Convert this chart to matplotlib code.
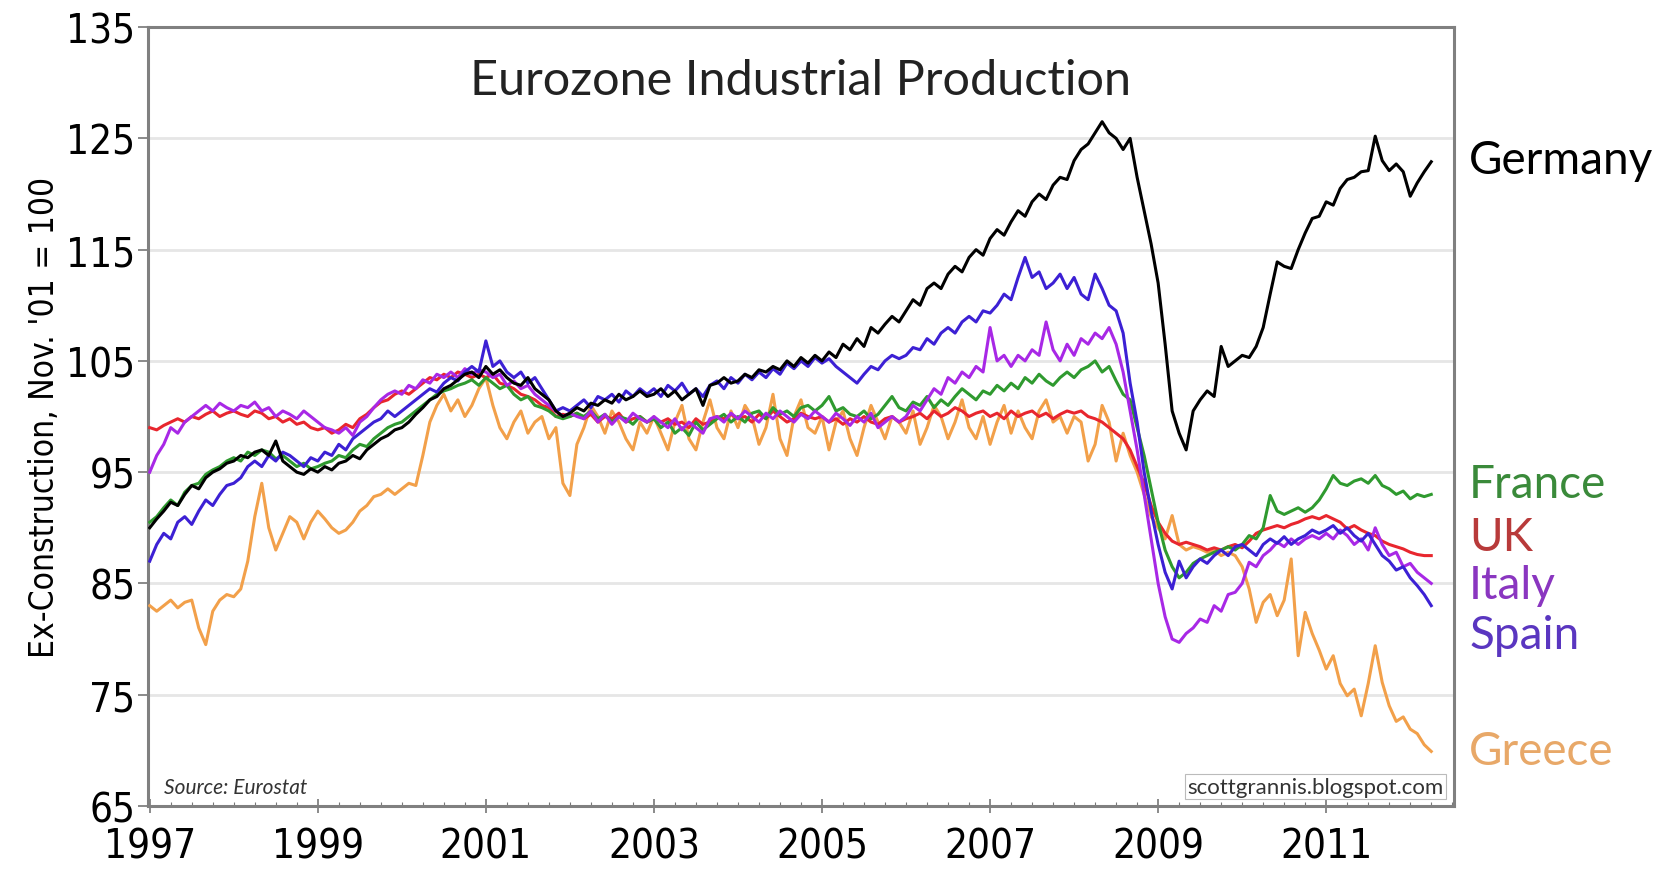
import matplotlib
matplotlib.use("Agg")
import matplotlib.pyplot as plt
import numpy as np

# monthly index values, Jan 1997 .. Apr 2012 (Nov '01 = 100)
start_year = 1997
germany = [
    90.0, 90.8, 91.5, 92.3, 92.0, 93.0, 93.8, 93.5, 94.5, 95.0, 95.3, 95.8,
    96.0, 96.5, 96.3, 96.8, 97.0, 96.5, 97.8, 96.0, 95.5, 95.0, 94.8, 95.3,
    95.0, 95.5, 95.2, 95.8, 96.0, 96.5, 96.2, 97.0, 97.5, 98.0, 98.3, 98.8,
    99.0, 99.5, 100.2, 100.8, 101.5, 101.8, 102.5, 102.8, 103.3, 103.8, 104.0, 103.5,
    104.5, 103.8, 104.2, 103.5, 103.0, 102.8, 103.5, 102.5, 102.0, 101.5, 100.5, 100.0,
    100.3, 100.8, 100.5, 101.2, 101.0, 101.5, 101.2, 102.0, 101.5, 101.8, 102.3, 101.8,
    102.0, 102.5, 101.8, 102.3, 101.5, 102.0, 102.5, 101.0, 102.8, 103.0, 103.5, 103.0,
    103.2, 103.8, 103.5, 104.2, 104.0, 104.5, 104.2, 105.0, 104.5, 105.3, 104.8, 105.5,
    105.0, 105.8, 105.3, 106.5, 106.0, 107.0, 106.3, 108.0, 107.5, 108.3, 109.0, 108.5,
    109.5, 110.5, 110.0, 111.5, 112.0, 111.5, 112.8, 113.5, 113.0, 114.3, 115.0, 114.5,
    116.0, 116.8, 116.3, 117.5, 118.5, 118.0, 119.3, 120.0, 119.5, 120.8, 121.5, 121.3,
    123.0, 124.0, 124.5, 125.5, 126.5, 125.5, 125.0, 124.0, 125.0, 121.5, 118.5, 115.5,
    112.0, 106.5, 100.5, 98.5, 97.0, 100.5, 101.5, 102.3, 101.8, 106.3, 104.5, 105.0,
    105.5, 105.3, 106.3, 108.0, 111.0, 113.9, 113.5, 113.3, 115.0, 116.5, 117.8, 118.0,
    119.3, 119.0, 120.5, 121.3, 121.5, 122.0, 122.1, 125.2, 123.0, 122.1, 122.7, 122.0,
    119.8, 121.0, 122.0, 122.9,
]
france = [
    90.5, 91.0, 91.8, 92.5, 92.0, 93.2, 93.8, 94.0, 94.8, 95.2, 95.5, 96.0,
    96.3, 96.0, 96.8, 96.5, 97.0, 96.8, 96.2, 96.5, 96.0, 95.5, 95.8, 95.3,
    95.5, 95.8, 96.0, 96.5, 96.3, 97.0, 97.5, 97.3, 98.0, 98.5, 99.0, 99.3,
    99.5, 100.0, 100.5, 101.0, 101.5, 102.0, 102.3, 102.5, 102.8, 103.0, 103.3, 102.8,
    103.5, 103.0, 102.5, 102.8, 102.0, 101.5, 101.8, 101.0, 100.8, 100.5, 100.0, 99.8,
    100.0, 100.3, 100.0, 100.5, 99.8, 100.2, 99.5, 100.0, 99.8, 99.3, 100.0, 99.5,
    99.8, 99.0, 99.5, 98.5, 99.0, 98.3, 99.5, 98.8, 99.3, 99.8, 100.2, 99.5,
    100.0, 99.5, 100.3, 100.5, 99.8, 100.8, 100.2, 100.5, 100.0, 100.8, 101.0, 100.5,
    101.0, 101.8, 100.5, 100.8, 100.2, 100.0, 100.5, 99.8, 100.2, 101.0, 101.8, 100.8,
    100.5, 101.3, 101.0, 101.8, 100.8, 101.5, 101.0, 101.8, 102.5, 102.0, 101.5, 102.3,
    102.0, 102.8, 102.3, 103.0, 102.5, 103.5, 103.0, 103.8, 103.2, 102.8, 103.5, 104.0,
    103.5, 104.2, 104.5, 105.0, 104.0, 104.5, 103.2, 102.0, 101.5, 99.0, 96.5, 93.5,
    90.5, 88.0, 86.5, 85.5, 86.0, 86.8, 87.2, 87.5, 87.8, 88.0, 88.3, 88.0,
    88.5, 89.3, 89.0, 90.0, 92.9, 91.5, 91.2, 91.5, 91.8, 91.4, 91.8, 92.5,
    93.5, 94.7, 94.0, 93.8, 94.2, 94.4, 94.0, 94.7, 93.8, 93.5, 93.0, 93.3,
    92.6, 93.0, 92.8, 93.0,
]
uk = [
    99.0, 98.8, 99.2, 99.5, 99.8, 99.5, 100.0, 99.8, 100.2, 100.5, 100.0, 100.3,
    100.5, 100.2, 100.0, 100.5, 100.3, 99.8, 100.0, 99.5, 99.8, 99.3, 99.5, 99.0,
    98.8, 99.0, 98.5, 98.8, 99.3, 99.0, 99.8, 100.2, 100.8, 101.3, 101.5, 102.0,
    102.3, 102.0, 102.5, 103.0, 103.5, 103.3, 103.8, 103.5, 104.0, 103.8, 103.5, 103.8,
    103.5, 103.8, 103.0, 102.8, 102.5, 102.0, 101.8, 101.5, 101.0, 100.8, 100.0, 100.2,
    100.0, 100.3, 99.8, 100.2, 99.5, 100.0, 99.8, 100.3, 99.5, 99.8, 100.0, 99.5,
    99.8, 99.5, 99.8, 99.3, 99.5, 99.0, 99.8, 99.3, 99.5, 100.0, 99.8, 100.2,
    99.8, 100.0, 99.5, 100.2, 99.8, 100.5, 100.0, 99.5, 99.8, 100.3, 100.0, 99.8,
    100.0, 99.5, 99.8, 99.3, 99.8, 99.5, 100.0, 99.5, 99.3, 99.8, 100.0, 99.5,
    99.8, 100.0, 100.3, 99.8, 100.5, 100.0, 100.3, 100.8, 100.5, 100.0, 100.3, 100.5,
    100.0, 100.3, 99.8, 100.5, 100.0, 100.3, 100.5, 100.0, 100.3, 99.8, 100.2, 100.5,
    100.3, 100.5, 100.0, 99.8, 99.5, 99.0, 98.5, 98.0, 97.0, 95.5, 94.0, 92.0,
    90.5, 89.5, 88.8, 88.5, 88.7, 88.5, 88.3, 88.0, 88.2, 88.0, 88.3, 88.5,
    88.2, 88.8, 89.5, 89.8, 90.0, 90.2, 90.0, 90.3, 90.5, 90.8, 91.0, 90.8,
    91.1, 90.8, 90.5, 89.9, 90.2, 89.8, 89.5, 89.3, 88.8, 88.5, 88.3, 88.1,
    87.8, 87.6, 87.5, 87.5,
]
italy = [
    95.0, 96.5, 97.5, 99.0, 98.5, 99.5, 100.0, 100.5, 101.0, 100.5, 101.2, 100.8,
    100.5, 101.0, 100.8, 101.3, 100.5, 100.8, 100.0, 100.5, 100.2, 99.8, 100.5, 100.0,
    99.5, 99.0, 98.8, 98.5, 99.0, 98.3, 99.5, 100.0, 100.8, 101.5, 102.0, 102.3,
    102.0, 102.8, 102.5, 103.3, 103.0, 103.8, 103.5, 104.0, 103.5, 104.3, 103.8, 104.2,
    104.0, 103.5, 103.8, 102.8, 103.2, 102.5, 102.8, 102.0, 101.5, 101.0, 100.5, 100.0,
    100.3, 100.0, 99.8, 100.5, 99.5, 100.2, 99.3, 100.0, 99.5, 100.3, 99.8, 99.5,
    100.0, 99.5, 99.0, 99.8, 98.8, 99.5, 99.0, 98.5, 99.8, 100.0, 99.5, 100.3,
    99.8, 100.5, 100.0, 99.5, 100.3, 99.8, 100.5, 100.0, 99.5, 100.2, 99.8, 100.5,
    100.0, 99.5, 100.3, 99.8, 99.2, 100.0, 99.5, 100.3, 99.0, 99.5, 100.0, 99.5,
    100.0, 101.0, 100.5, 101.5, 102.5, 102.0, 103.5, 103.0, 104.0, 103.5, 104.5, 104.0,
    108.0, 105.0, 105.5, 104.5, 105.5, 105.0, 106.0, 105.5, 108.5, 106.0, 105.0, 106.5,
    105.5, 107.0, 106.5, 107.5, 107.0, 108.0, 106.5, 104.0, 100.5, 97.0, 93.0, 89.0,
    85.0, 82.0, 80.0, 79.7, 80.5, 81.0, 81.8, 81.5, 83.0, 82.5, 84.0, 84.2,
    85.0, 86.9, 86.5, 87.5, 88.0, 88.7, 88.3, 89.0, 88.5, 89.0, 89.3, 89.0,
    89.5, 89.0, 89.8, 89.3, 88.5, 89.0, 88.0, 90.0, 88.5, 87.5, 87.8, 86.5,
    86.8, 86.0, 85.5, 85.0,
]
spain = [
    87.0, 88.5, 89.5, 89.0, 90.5, 91.0, 90.3, 91.5, 92.5, 92.0, 93.0, 93.8,
    94.0, 94.5, 95.5, 96.0, 95.5, 96.5, 96.0, 96.8, 96.5, 96.0, 95.5, 96.3,
    96.0, 96.8, 96.5, 97.5, 97.0, 98.0, 98.5, 99.0, 99.5, 99.8, 100.5, 100.0,
    100.5, 101.0, 101.5, 102.0, 102.5, 102.2, 103.0, 103.5, 103.2, 104.0, 104.5, 104.0,
    106.8, 104.5, 105.0, 104.0, 103.5, 104.0, 103.0, 103.5, 102.5, 101.5, 100.5, 100.8,
    100.5, 101.0, 101.5, 100.8, 101.8, 101.5, 102.0, 101.3, 102.3, 101.8, 102.5, 102.0,
    102.5, 101.8, 102.8, 102.3, 103.0, 102.0, 102.5, 101.8, 102.8, 103.2, 102.5, 103.5,
    103.0, 103.8, 103.3, 104.0, 103.5, 104.3, 103.8, 104.8, 104.3, 105.0, 104.5, 105.3,
    104.8, 105.2, 104.5, 104.0, 103.5, 103.0, 103.8, 104.5, 104.2, 105.0, 105.5, 105.2,
    105.5, 106.2, 106.0, 107.0, 106.5, 107.5, 108.0, 107.5, 108.5, 109.0, 108.5, 109.5,
    109.3, 110.0, 111.0, 110.5, 112.5, 114.3, 112.5, 113.0, 111.5, 112.0, 112.8, 111.5,
    112.5, 111.0, 110.5, 112.8, 111.5, 110.0, 109.5, 107.5, 103.0, 99.5, 95.0, 91.5,
    88.5, 86.0, 84.5, 87.0, 85.5, 86.5, 87.2, 86.8, 87.5, 88.0, 87.5, 88.3,
    88.5, 88.0, 87.5, 88.5, 89.0, 88.6, 89.2, 88.5, 89.0, 89.3, 89.8, 89.5,
    89.8, 90.2, 89.5, 90.0, 89.3, 88.8, 89.5, 88.5, 87.5, 87.0, 86.2, 86.5,
    85.5, 84.8, 84.0, 83.0,
]
greece = [
    83.0, 82.5, 83.0, 83.5, 82.8, 83.3, 83.5, 81.0, 79.5, 82.5, 83.5, 84.0,
    83.8, 84.5, 87.0, 91.0, 94.0, 90.0, 88.0, 89.5, 91.0, 90.5, 89.0, 90.5,
    91.5, 90.8, 90.0, 89.5, 89.8, 90.5, 91.5, 92.0, 92.8, 93.0, 93.5, 93.0,
    93.5, 94.0, 93.8, 96.5, 99.5, 101.0, 102.0, 100.5, 101.5, 100.0, 101.0, 102.5,
    103.5, 101.0, 99.0, 98.0, 99.5, 100.5, 98.5, 99.5, 100.0, 98.0, 99.0, 94.0,
    92.9, 97.5, 99.0, 101.0, 100.0, 98.5, 100.5, 99.5, 98.0, 97.0, 99.5, 98.5,
    100.0, 98.5, 97.0, 99.5, 101.0, 98.0, 97.0, 99.5, 101.5, 99.0, 98.0, 100.5,
    99.0, 101.0, 100.0, 97.5, 99.0, 102.0, 98.0, 96.5, 100.0, 101.5, 99.0, 98.5,
    100.0, 97.0, 99.5, 100.5, 98.0, 96.5, 99.0, 101.0, 99.5, 98.0, 100.0, 99.5,
    98.5, 100.5, 97.5, 99.0, 101.0, 100.0, 98.0, 99.5, 101.5, 99.0, 98.0, 100.0,
    97.5, 99.5, 101.0, 98.5, 100.5, 99.0, 98.0, 100.5, 101.5, 99.5, 100.0, 98.5,
    100.0, 99.5, 96.0, 97.5, 101.0, 99.5, 96.0, 98.5, 96.5, 95.0, 93.0, 91.0,
    90.0, 89.0, 91.1, 88.5, 88.0, 88.3, 88.1, 87.8, 88.0, 87.5, 87.8, 87.5,
    86.5, 84.5, 81.5, 83.3, 84.0, 82.1, 83.5, 87.2, 78.5, 82.4, 80.5, 79.0,
    77.3, 78.5, 76.0, 74.9, 75.5, 73.1, 76.0, 79.4, 76.1, 74.0, 72.6, 73.0,
    71.9, 71.5, 70.5, 69.9,
]

names = ["Greece", "UK", "France", "Italy", "Spain", "Germany"]
series = [greece, uk, france, italy, spain, germany]
line_colors = ["#f2a04a", "#e8262e", "#2f9a2f", "#a828e6", "#3c20d4", "#000000"]
label_colors = ["#e8a868", "#b83a3a", "#3a8a3a", "#8a36c0", "#5a36c0", "#000000"]
label_y = [69.9, 89.2, 93.9, 84.9, 80.4, 123.1]
year_ticks = [1997, 1999, 2001, 2003, 2005, 2007, 2009, 2011]
y_ticks = [65, 75, 85, 95, 105, 115, 125, 135]

plt.rcParams["font.family"] = ["Lato", "DejaVu Sans"]
tick_font = dict(family="DejaVu Sans", fontstretch="condensed", fontsize=29)

fig = plt.figure(figsize=(16.71, 8.79), dpi=100)
ax = fig.add_axes([0.0886, 0.082, 0.7815, 0.886])

for yv in y_ticks[1:-1]:
    ax.axhline(yv, color="#e6e6e6", lw=2, zorder=0)

for name, vals, col in zip(names, series, line_colors):
    x = start_year + np.arange(len(vals)) / 12.0
    ax.plot(x, vals, color=col, lw=2.2, zorder=3)

for name, ly, col in zip(names, label_y, label_colors):
    ax.text(2012.70, ly, name, color=col, fontsize=33, va="center", ha="left",
            clip_on=False)

ax.set_xlim(1996.98, 2012.52)
ax.set_ylim(65, 135)
ax.set_xticks(year_ticks)
ax.set_xticklabels([str(v) for v in year_ticks], **tick_font)
ax.set_xticks(np.arange(1997, 2012.6, 0.25), minor=True)
ax.set_yticks(y_ticks)
ax.set_yticklabels([str(v) for v in y_ticks], **tick_font)
ax.tick_params(axis="x", which="major", direction="inout", length=10, width=1.2,
               color="#777777", pad=10)
ax.tick_params(axis="x", which="minor", direction="in", length=3, width=0.8,
               color="#777777")
ax.tick_params(axis="y", direction="out", length=7, width=1.2, color="#777777", pad=2)

for s in ax.spines.values():
    s.set_color("#808080")
    s.set_linewidth(2.2)

ax.set_ylabel("Ex-Construction, Nov. '01 = 100", family="DejaVu Sans",
              fontstretch="condensed", fontsize=24, labelpad=4)

ax.text(0.5, 0.932, "Eurozone Industrial Production", transform=ax.transAxes,
        ha="center", va="center", fontsize=35, color="#222222")
ax.text(0.012, 0.012, "Source: Eurostat", transform=ax.transAxes, ha="left",
        va="bottom", fontsize=15, style="italic", color="#333333")
ax.text(0.992, 0.012, "scottgrannis.blogspot.com", transform=ax.transAxes,
        ha="right", va="bottom", fontsize=16, color="#333333",
        bbox=dict(facecolor="white", edgecolor="#bbbbbb", lw=0.8, pad=2))

fig.savefig("out.png", dpi=100, facecolor="white")
